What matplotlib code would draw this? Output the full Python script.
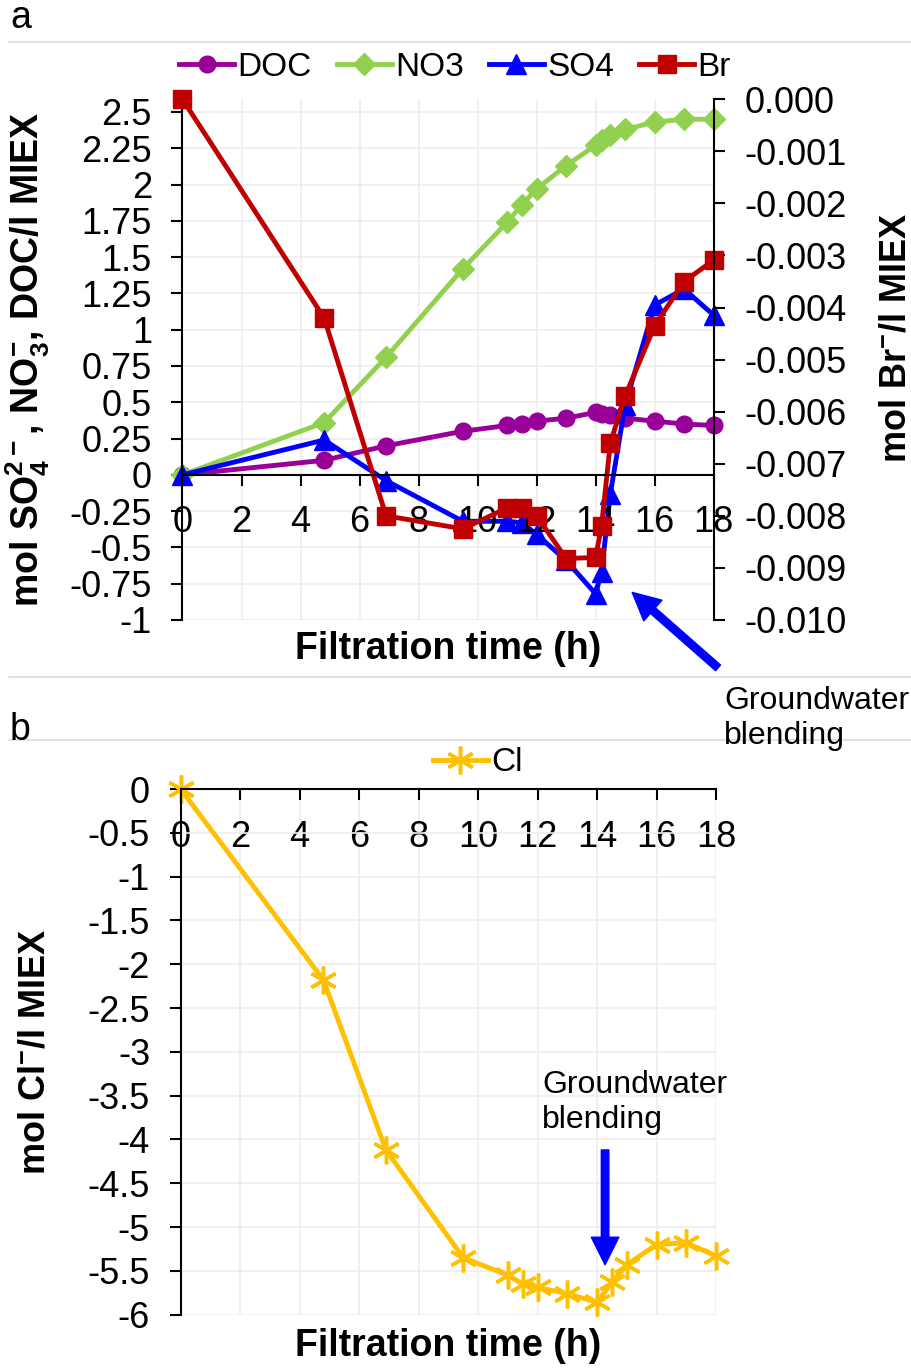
import numpy as np
import matplotlib
matplotlib.use('Agg')
import matplotlib.pyplot as plt
from matplotlib.ticker import FormatStrFormatter, FuncFormatter
from matplotlib.lines import Line2D

plt.rcParams['font.family'] = ['Liberation Sans', 'DejaVu Sans']
plt.rcParams['mathtext.default'] = 'regular'

# ---- data ----
time_h = [0, 4.8, 6.9, 9.5, 11, 11.5, 12, 13, 14, 14.2, 14.5, 15, 16, 17, 18]
doc = [0, 0.10, 0.20, 0.30, 0.34, 0.35, 0.37, 0.39, 0.43, 0.42, 0.41, 0.39, 0.37, 0.35, 0.34]
no3 = [0, 0.36, 0.81, 1.42, 1.74, 1.86, 1.97, 2.13, 2.27, 2.31, 2.34, 2.38, 2.43, 2.45, 2.45]
so4 = [0, 0.24, -0.04, -0.32, -0.32, -0.33, -0.41, -0.59, -0.82, -0.67, -0.13, 0.48, 1.17, 1.28, 1.10]
br = [0, -0.0042, -0.0080, -0.00825, -0.00785, -0.00785, -0.0080, -0.00882,
      -0.0088, -0.0082, -0.0066, -0.0057, -0.00435, -0.0035, -0.00309]

time_cl = [0, 4.8, 6.9, 9.5, 11, 11.5, 12, 13, 14, 14.5, 15, 16, 17, 18]
cl = [0, -2.18, -4.12, -5.35, -5.55, -5.65, -5.69, -5.76, -5.86, -5.63, -5.43, -5.2, -5.18, -5.33]

x_ticks = np.arange(0, 19, 2)

# colours
C_DOC = '#990099'
C_NO3 = '#92D050'
C_SO4 = '#0000FF'
C_BR = '#C00000'
C_CL = '#FFC000'
GRID = '#EDEDED'

TICK_FS = 26
LAB_FS = 27
LEG_FS = 24
NOTE_FS = 23

fig = plt.figure(figsize=(9.12, 13.71), dpi=100)

def style_ticks(a):
    a.tick_params(direction='out', length=8, width=1.5, labelsize=TICK_FS, pad=14, color='black')

def br_fmt(v, pos):
    if abs(v) < 1e-9:
        return '0.000'
    return '%.3f' % v

ARROW = dict(arrowstyle='simple,head_length=1.1,head_width=1.1,tail_width=0.3',
             color=C_SO4, mutation_scale=18, shrinkA=0, shrinkB=0)

# ---------- panel a ----------
ax = fig.add_axes([0.2001, 0.5478, 0.5824, 0.3798])
ax.patch.set_visible(False)
ylo, yhi = -1.0, 2.5876
ax.set_xlim(0, 18)
ax.set_ylim(ylo, yhi)
ax.set_yticks(np.arange(-1, 2.51, 0.25))
ax.yaxis.set_major_formatter(FormatStrFormatter('%g'))
ax.set_xticks(x_ticks)
ax.grid(True, color=GRID, lw=1.2)
ax.set_axisbelow(True)
for s in ['top', 'right', 'bottom']:
    ax.spines[s].set_visible(False)
ax.spines['left'].set_linewidth(1.5)
style_ticks(ax)
ax.tick_params(axis='x', bottom=False, labelbottom=False)

lw = 3.5
ax.plot(time_h, doc, color=C_DOC, lw=lw, marker='o', ms=12, clip_on=False, label='DOC')
ax.plot(time_h, no3, color=C_NO3, lw=lw, marker='D', ms=11, clip_on=False, label='NO3')
ax.plot(time_h, so4, color=C_SO4, lw=lw, marker='^', ms=14, clip_on=False, label='SO4')

ax2 = ax.twinx()
ax2.set_ylim(-0.010, 0.0)
ax2.set_yticks(np.arange(-0.010, 0.0001, 0.001))
ax2.yaxis.set_major_formatter(FuncFormatter(br_fmt))
ax2.plot(time_h, br, color=C_BR, lw=lw, marker='s', ms=13, clip_on=False, label='Br')
for s in ['top', 'left']:
    ax2.spines[s].set_visible(False)
ax2.spines['right'].set_linewidth(1.5)
# x axis drawn from the twin so its labels sit above every series
ax2.xaxis.set_visible(True)
ax2.spines['bottom'].set_position(('axes', (0 - ylo) / (yhi - ylo)))
ax2.spines['bottom'].set_linewidth(1.5)
ax2.set_xticks(x_ticks)
style_ticks(ax2)

ax.text(0.5, -0.055, 'Filtration time (h)', transform=ax.transAxes, ha='center', va='center',
        fontsize=LAB_FS, fontweight='bold')
ax.set_ylabel(r'mol SO$_4^{2-}$, NO$_3^{-}$, DOC/l MIEX', fontsize=LAB_FS, fontweight='bold')
ax.yaxis.set_label_coords(-0.245, 0.5)
ax2.set_ylabel(r'mol Br$^{-}$/l MIEX', fontsize=26, fontweight='bold', rotation=90)
ax2.yaxis.set_label_coords(1.31, 0.543)

h1, l1 = ax.get_legend_handles_labels()
h2, l2 = ax2.get_legend_handles_labels()
fig.legend(h1 + h2, l1 + l2, loc='center', bbox_to_anchor=(0.499, 0.951), ncol=4,
           frameon=False, fontsize=LEG_FS, handlelength=1.65, handletextpad=0.1,
           columnspacing=0.75, borderaxespad=0)

ax.annotate('', xy=(15.24, -0.81), xytext=(18.15, -1.33), xycoords='data',
            annotation_clip=False, arrowprops=ARROW)
fig.text(724 / 912, 1 - 686 / 1371, 'Groundwater\nblending', ha='left', va='top',
         fontsize=NOTE_FS, linespacing=1.2)

# ---------- panel b ----------
bx = fig.add_axes([0.1981, 0.0411, 0.5870, 0.3834])
bx.set_xlim(0, 18)
bx.set_ylim(-6, 0)
bx.set_xticks(x_ticks)
bx.set_yticks(np.arange(-6, 0.01, 0.5))
bx.yaxis.set_major_formatter(FormatStrFormatter('%g'))
bx.grid(True, color=GRID, lw=1.2)
bx.set_axisbelow(True)
for s in ['top', 'right']:
    bx.spines[s].set_visible(False)
bx.spines['bottom'].set_position(('data', 0))
bx.spines['bottom'].set_linewidth(1.5)
bx.spines['left'].set_linewidth(1.5)
style_ticks(bx)
bx.plot(time_cl, cl, color=C_CL, lw=lw, marker=(6, 2, 0), ms=20, mew=2.5,
        clip_on=False, label='Cl')
bx.text(0.5, -0.06, 'Filtration time (h)', transform=bx.transAxes, ha='center', va='center',
        fontsize=LAB_FS, fontweight='bold')
bx.set_ylabel(r'mol Cl$^{-}$/l MIEX', fontsize=26, fontweight='bold')
bx.yaxis.set_label_coords(-0.24, 0.5)
fig.legend(*bx.get_legend_handles_labels(), loc='center', bbox_to_anchor=(0.524, 0.4435),
           frameon=False, fontsize=LEG_FS, handlelength=1.65, handletextpad=0.1,
           borderaxespad=0)

bx.annotate('', xy=(14.27, -5.43), xytext=(14.27, -4.12), xycoords='data',
            arrowprops=ARROW)
fig.text(542 / 912, 1 - 1070 / 1371, 'Groundwater\nblending', ha='left', va='top',
         fontsize=NOTE_FS, linespacing=1.2)

# ---------- panel letters and separators ----------
fig.text(10 / 912, 1 - 18 / 1371, 'a', ha='left', va='center', fontsize=27)
fig.text(10 / 912, 1 - 730 / 1371, 'b', ha='left', va='center', fontsize=27)
for ypix in [42, 677, 740]:
    fig.add_artist(Line2D([0.01, 1.0], [1 - ypix / 1371] * 2, color='#DDDDDD', lw=1.2))

fig.savefig('out.png', dpi=100)
